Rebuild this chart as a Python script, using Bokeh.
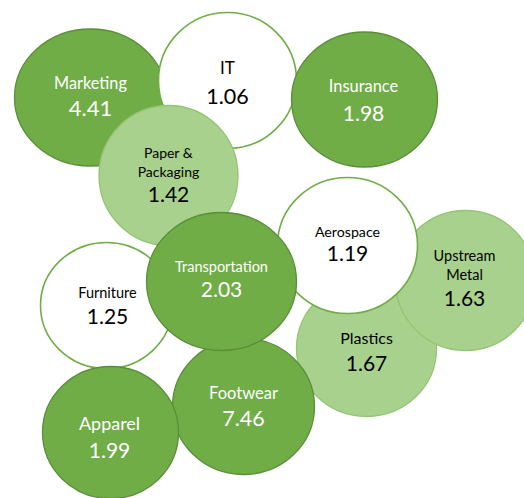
from bokeh.plotting import figure
from bokeh.models import ColumnDataSource, Range1d
from bokeh.embed import file_html
from bokeh.resources import INLINE
from bokeh.core.properties import value

# Bubble data (drawing order: later bubbles are on top)
labels = ["Marketing", "IT", "Insurance", "Paper &\nPackaging", "Plastics",
          "Upstream\nMetal", "Aerospace", "Furniture", "Footwear", "Apparel",
          "Transportation"]
values = [4.41, 1.06, 1.98, 1.42, 1.67, 1.63, 1.19, 1.25, 7.46, 1.99, 2.03]
bubble_x = [90, 227, 364, 168, 366, 465, 347, 106, 243, 110, 221]
bubble_y = [97, 80, 99, 175, 348, 280, 245, 305, 406, 432, 281]
bubble_w = [152, 138, 146, 139, 140, 140, 140, 132, 142, 136, 150]
bubble_h = [137, 136, 135, 140, 136, 140, 136, 126, 136, 132, 138]
group = ["dark", "white", "dark", "light", "light", "light", "white", "white",
         "dark", "dark", "dark"]

fills = {"dark": "#70AD47", "light": "#A9D18E", "white": "#FFFFFF"}
lines = {"dark": "#5A8E38", "light": "#93C572", "white": "#70AD47"}
text_cols = {"dark": "#FFFFFF", "light": "#000000", "white": "#000000"}

label_size = [16.3, 17, 16.4, 14, 16, 14.5, 14.2, 14.5, 16.5, 18, 14.5]
value_size = [22, 21.5, 21, 21, 21, 21, 21, 21, 21.5, 21, 21]
label_y = [82, 67, 85, 152, 337, 255, 231, 292, 392, 422, 266]
value_y = [108, 96, 113, 194, 363, 298, 253, 316, 418, 450, 289]
label_x = [90, 227, 363, 168, 366, 464, 347, 107, 243, 109, 221]

W, H = 524, 498
p = figure(width=W, height=H, output_backend="svg", toolbar_location=None,
           x_range=Range1d(0, W), y_range=Range1d(H, 0), min_border=0)
p.axis.visible = False
p.grid.visible = False
p.outline_line_color = None
p.background_fill_color = "white"
p.border_fill_color = "white"

src = ColumnDataSource(dict(
    x=bubble_x, y=bubble_y, w=bubble_w, h=bubble_h,
    fill=[fills[g] for g in group], line=[lines[g] for g in group],
    lw=[1.6 if g == "white" else 1.3 for g in group],
))
p.ellipse(x="x", y="y", width="w", height="h", fill_color="fill",
          line_color="line", line_width="lw", source=src)

# labels (split multi-line labels into individual lines)
lx, ly, lt, lc, ls = [], [], [], [], []
for i, lab in enumerate(labels):
    parts = lab.split("\n")
    for j, part in enumerate(parts):
        lx.append(label_x[i])
        ly.append(label_y[i] + j * 18.5)
        lt.append(part)
        lc.append(text_cols[group[i]])
        ls.append(f"{label_size[i]}px")
lsrc = ColumnDataSource(dict(x=lx, y=ly, t=lt, c=lc, s=ls))
p.text(x="x", y="y", text="t", text_color="c", text_font_size="s",
       text_align="center", text_baseline="middle",
       text_font=value("Lato"), source=lsrc)

vsrc = ColumnDataSource(dict(
    x=label_x, y=value_y, t=[f"{v:.2f}" for v in values],
    c=[text_cols[g] for g in group], s=[f"{s}px" for s in value_size]))
p.text(x="x", y="y", text="t", text_color="c", text_font_size="s",
       text_align="center", text_baseline="middle",
       text_font=value("Lato"), source=vsrc)

open("out.html", "w").write(file_html(p, INLINE))
